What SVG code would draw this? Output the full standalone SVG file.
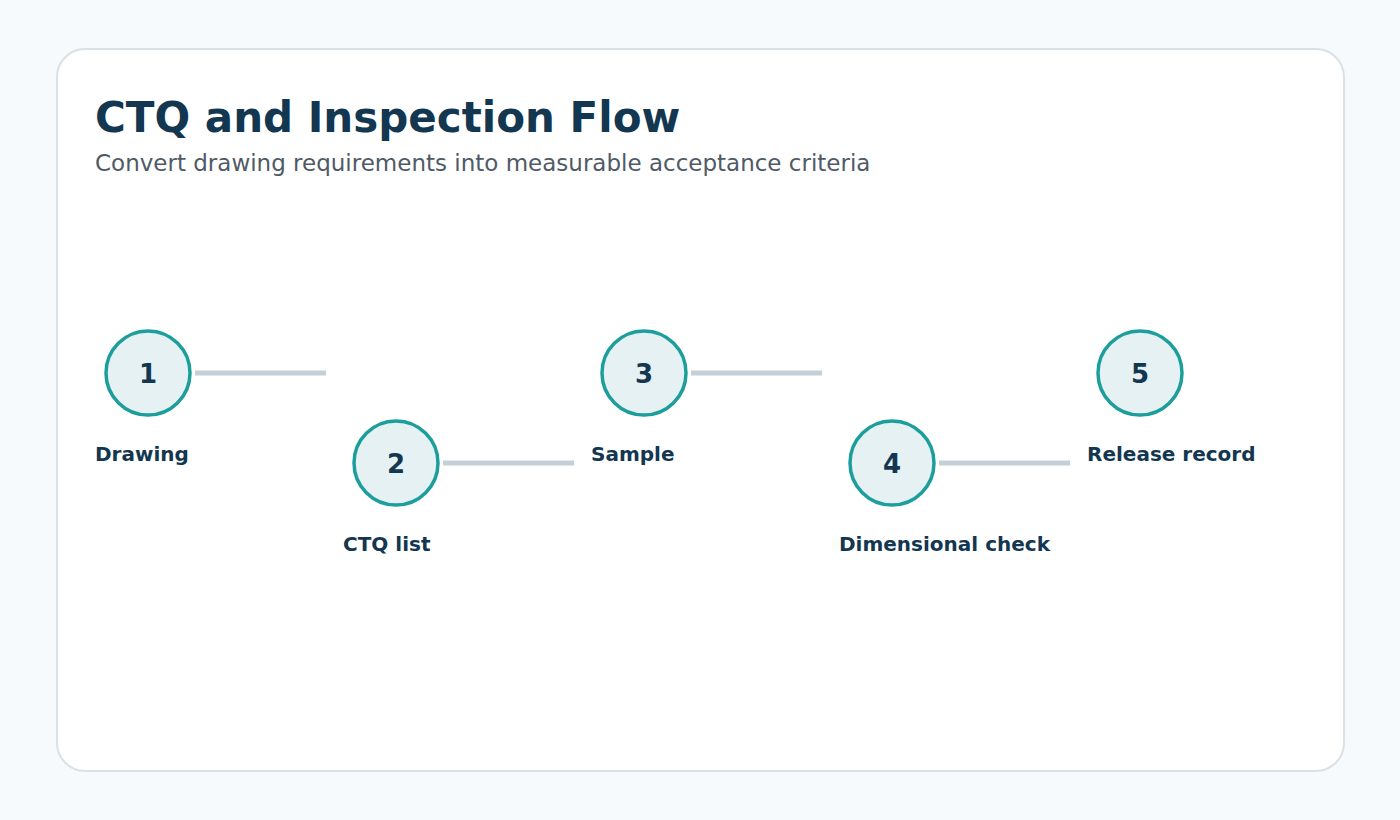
<svg xmlns="http://www.w3.org/2000/svg" width="1400" height="820" viewBox="0 0 1400 820">
<style>
.title{font-family:"DejaVu Sans",sans-serif;font-weight:bold;font-size:42px;fill:#133651}
.sub{font-family:"DejaVu Sans",sans-serif;font-size:23px;fill:#4f5a66}
.num{font-family:"DejaVu Sans",sans-serif;font-weight:bold;font-size:26px;fill:#133651;text-anchor:middle;dominant-baseline:central}
.lbl{font-family:"DejaVu Sans",sans-serif;font-weight:bold;font-size:20px;fill:#133651}
.circ{fill:#e6f1f4;stroke:#1c9e9c;stroke-width:3.5}
.conn{stroke:#c4d0d8;stroke-width:5}
</style>
<rect x="0" y="0" width="1400" height="820" fill="#f7fafc"/>
<rect x="57" y="49" width="1287" height="722" rx="28" fill="#ffffff" stroke="#d9e1e7" stroke-width="2"/>
<text class="title" x="95" y="132">CTQ and Inspection Flow</text>
<text class="sub" x="95" y="171">Convert drawing requirements into measurable acceptance criteria</text>
<g id="connectors">
<line class="conn" x1="195" y1="373" x2="326" y2="373"/>
<line class="conn" x1="443" y1="463" x2="574" y2="463"/>
<line class="conn" x1="691" y1="373" x2="822" y2="373"/>
<line class="conn" x1="939" y1="463" x2="1070" y2="463"/>
</g>
<g id="node1"><circle class="circ" cx="148" cy="373" r="42"/><text class="num" x="148" y="374">1</text><text class="lbl" x="95" y="461">Drawing</text></g>
<g id="node2"><circle class="circ" cx="396" cy="463" r="42"/><text class="num" x="396" y="464">2</text><text class="lbl" x="343" y="551">CTQ list</text></g>
<g id="node3"><circle class="circ" cx="644" cy="373" r="42"/><text class="num" x="644" y="374">3</text><text class="lbl" x="591" y="461">Sample</text></g>
<g id="node4"><circle class="circ" cx="892" cy="463" r="42"/><text class="num" x="892" y="464">4</text><text class="lbl" x="839" y="551">Dimensional check</text></g>
<g id="node5"><circle class="circ" cx="1140" cy="373" r="42"/><text class="num" x="1140" y="374">5</text><text class="lbl" x="1087" y="461">Release record</text></g>
</svg>
